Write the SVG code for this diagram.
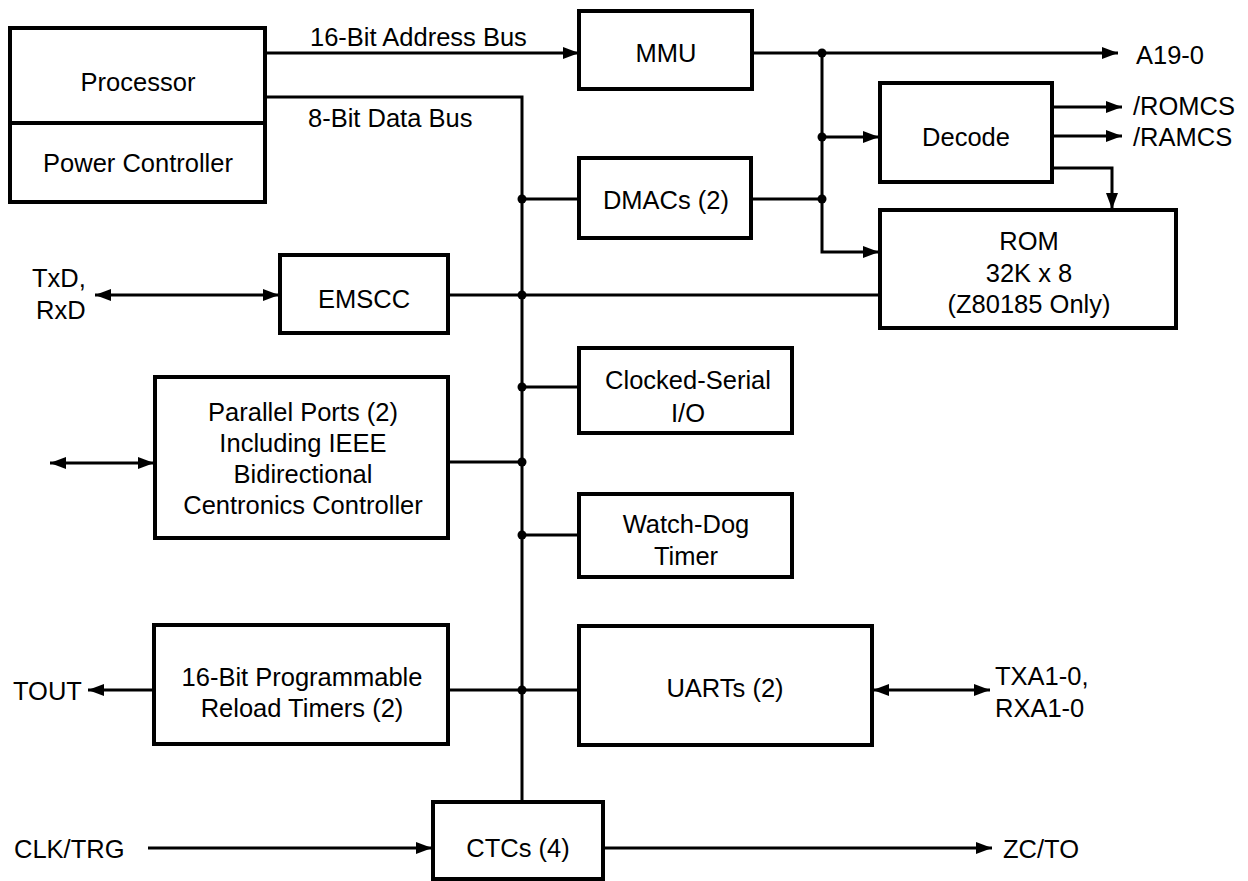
<svg xmlns="http://www.w3.org/2000/svg" width="1248" height="881" viewBox="0 0 1248 881">
<defs>
<style>
.box{fill:#fff;stroke:#000;stroke-width:4}
.ln{fill:none;stroke:#000;stroke-width:3}
.t{font-family:"Liberation Sans",Arial,sans-serif;font-size:25.5px;fill:#000}
.c{text-anchor:middle}
.dot{fill:#000}
</style>
<marker id="ah" viewBox="0 0 16 12" markerWidth="16" markerHeight="12" refX="16" refY="6" orient="auto-start-reverse" markerUnits="userSpaceOnUse">
<path d="M0,0 L16,6 L0,12 z" fill="#000"/>
</marker>
</defs>
<rect width="1248" height="881" fill="#fff"/>

<g id="connectors">
<path class="ln" d="M265,53 H579" marker-end="url(#ah)"/>
<path class="ln" d="M265,97 H522 V802"/>
<path class="ln" d="M752,53 H1118" marker-end="url(#ah)"/>
<path class="ln" d="M822,53 V252 H879" marker-end="url(#ah)"/>
<path class="ln" d="M822,137 H879" marker-end="url(#ah)"/>
<path class="ln" d="M1052,107 H1122" marker-end="url(#ah)"/>
<path class="ln" d="M1052,136 H1122" marker-end="url(#ah)"/>
<path class="ln" d="M1052,168 H1112 V209" marker-end="url(#ah)"/>
<path class="ln" d="M522,199 H579"/>
<path class="ln" d="M752,199 H822"/>
<path class="ln" d="M448,295 H880"/>
<path class="ln" d="M95,295 H279" marker-start="url(#ah)" marker-end="url(#ah)"/>
<path class="ln" d="M522,387 H579"/>
<path class="ln" d="M448,462 H522"/>
<path class="ln" d="M50,463 H154" marker-start="url(#ah)" marker-end="url(#ah)"/>
<path class="ln" d="M522,535 H579"/>
<path class="ln" d="M448,690 H579"/>
<path class="ln" d="M154,690 H88" marker-end="url(#ah)"/>
<path class="ln" d="M873,690 H990" marker-start="url(#ah)" marker-end="url(#ah)"/>
<path class="ln" d="M148,848 H432" marker-end="url(#ah)"/>
<path class="ln" d="M603,848 H992" marker-end="url(#ah)"/>
<circle class="dot" cx="822" cy="53" r="4.5"/>
<circle class="dot" cx="822" cy="137" r="4.5"/>
<circle class="dot" cx="822" cy="199" r="4.5"/>
<circle class="dot" cx="522" cy="199" r="4.5"/>
<circle class="dot" cx="522" cy="295" r="4.5"/>
<circle class="dot" cx="522" cy="387" r="4.5"/>
<circle class="dot" cx="522" cy="462" r="4.5"/>
<circle class="dot" cx="522" cy="535" r="4.5"/>
<circle class="dot" cx="522" cy="690" r="4.5"/>
</g>

<g id="labels">
<text class="t" x="310" y="46">16-Bit Address Bus</text>
<text class="t" x="308" y="127">8-Bit Data Bus</text>
<text class="t" x="1136" y="64">A19-0</text>
<text class="t" x="1133" y="115">/ROMCS</text>
<text class="t" x="1133" y="146">/RAMCS</text>
<text class="t" x="32" y="287">TxD,</text>
<text class="t" x="36" y="319">RxD</text>
<text class="t" x="13" y="700">TOUT</text>
<text class="t" x="995" y="685">TXA1-0,</text>
<text class="t" x="995" y="717">RXA1-0</text>
<text class="t" x="14" y="858">CLK/TRG</text>
<text class="t" x="1003" y="858">ZC/TO</text>
</g>

<g id="processor">
<rect class="box" x="10" y="28" width="255" height="174"/>
<line class="box" x1="10" y1="123" x2="265" y2="123"/>
<text class="t c" x="138" y="91">Processor</text>
<text class="t c" x="138" y="172">Power Controller</text>
</g>

<g id="mmu">
<rect class="box" x="579" y="11" width="173" height="78"/>
<text class="t c" x="666" y="62">MMU</text>
</g>

<g id="decode">
<rect class="box" x="880" y="83" width="172" height="99"/>
<text class="t c" x="966" y="146">Decode</text>
</g>

<g id="dmacs">
<rect class="box" x="579" y="158" width="172" height="80"/>
<text class="t c" x="666" y="209">DMACs (2)</text>
</g>

<g id="rom">
<rect class="box" x="880" y="210" width="296" height="118"/>
<text class="t c" x="1029" y="250">ROM</text>
<text class="t c" x="1029" y="282">32K x 8</text>
<text class="t c" x="1029" y="313">(Z80185 Only)</text>
</g>

<g id="emscc">
<rect class="box" x="280" y="255" width="168" height="78"/>
<text class="t c" x="364" y="308">EMSCC</text>
</g>

<g id="csio">
<rect class="box" x="579" y="348" width="213" height="85"/>
<text class="t c" x="688" y="389">Clocked-Serial</text>
<text class="t c" x="688" y="422">I/O</text>
</g>

<g id="parallel">
<rect class="box" x="155" y="377" width="293" height="161"/>
<text class="t c" x="303" y="421">Parallel Ports (2)</text>
<text class="t c" x="303" y="452">Including IEEE</text>
<text class="t c" x="303" y="483">Bidirectional</text>
<text class="t c" x="303" y="514">Centronics Controller</text>
</g>

<g id="watchdog">
<rect class="box" x="579" y="494" width="213" height="83"/>
<text class="t c" x="686" y="533">Watch-Dog</text>
<text class="t c" x="686" y="565">Timer</text>
</g>

<g id="prt">
<rect class="box" x="154" y="625" width="294" height="119"/>
<text class="t c" x="302" y="686">16-Bit Programmable</text>
<text class="t c" x="302" y="717">Reload Timers (2)</text>
</g>

<g id="uarts">
<rect class="box" x="579" y="626" width="293" height="119"/>
<text class="t c" x="725" y="697">UARTs (2)</text>
</g>

<g id="ctcs">
<rect class="box" x="433" y="802" width="170" height="77"/>
<text class="t c" x="518" y="857">CTCs (4)</text>
</g>
</svg>
